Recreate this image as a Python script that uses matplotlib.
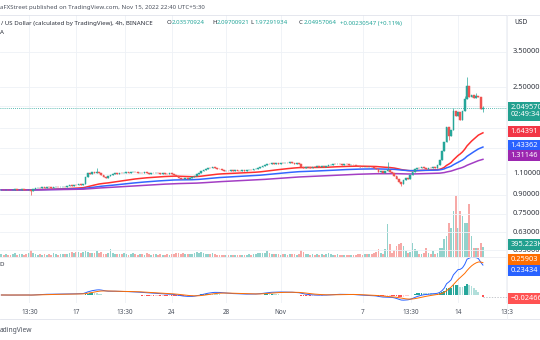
import numpy as np
import matplotlib
matplotlib.use("Agg")
import matplotlib.pyplot as plt
from matplotlib.ticker import NullLocator

plt.rcParams['font.family'] = ['Noto Sans', 'DejaVu Sans']

# ---------------- data (4h candles, Oct 11 -> Nov 15 2022) ----------------
closes = [
    0.942, 0.938, 0.944, 0.940, 0.936, 0.941, 0.945, 0.939, 0.943, 0.947, 0.941, 0.938, 0.944,
    0.930, 0.952,
    0.958, 0.962, 0.957, 0.965, 0.961, 0.968, 0.963, 0.959, 0.966, 0.970, 0.964, 0.968, 0.972, 0.967, 0.975,
    0.982, 0.978, 0.988, 0.985, 0.994, 0.990, 0.998,
    1.065, 1.102,
    1.098, 1.112, 1.105, 1.118, 1.108,
    1.080, 1.062, 1.058, 1.070, 1.088,
    1.098, 1.104, 1.096, 1.108, 1.102, 1.110,
    1.115, 1.108, 1.112, 1.120, 1.114, 1.106, 1.110, 1.104, 1.112, 1.108, 1.100, 1.106, 1.102, 1.110,
    1.104, 1.098, 1.106, 1.100, 1.096, 1.102, 1.094, 1.088,
    1.070, 1.055, 1.048, 1.042, 1.050, 1.045, 1.052, 1.060,
    1.078, 1.095, 1.110, 1.128, 1.138, 1.150,
    1.162, 1.158, 1.166, 1.160, 1.152, 1.145,
    1.135, 1.128, 1.132, 1.126, 1.134, 1.130, 1.138, 1.132, 1.128, 1.136, 1.130, 1.134, 1.140, 1.136,
    1.145, 1.150, 1.158, 1.168,
    1.185, 1.196, 1.205, 1.200, 1.212, 1.206, 1.215, 1.208, 1.218, 1.212, 1.220, 1.214, 1.224, 1.216,
    1.210, 1.218, 1.205,
    1.175, 1.162,
    1.168, 1.172, 1.165, 1.174, 1.170, 1.178, 1.172, 1.180, 1.176, 1.185,
    1.192, 1.198, 1.205, 1.200, 1.208, 1.202, 1.196, 1.204, 1.200, 1.194, 1.198, 1.190, 1.186, 1.180,
    1.175, 1.170, 1.174, 1.166, 1.172, 1.168, 1.160, 1.150,
    1.118, 1.125, 1.110, 1.128, 1.135, 1.120, 1.105,
    1.075, 1.040, 1.010, 0.995, 1.030,
    1.055, 1.048, 1.085, 1.120,
    1.150, 1.162, 1.155, 1.168, 1.160, 1.152, 1.165, 1.158, 1.170, 1.164,
    1.19, 1.25, 1.36, 1.48, 1.72, 1.57, 1.66, 2.00, 1.90, 1.97, 1.84, 1.99, 2.24, 2.52,
    2.27, 2.33, 2.25, 2.31, 2.27, 2.03570924, 2.04957064,
]
first_open = 0.940

volumes = [
    120, 90, 140, 100, 80, 110, 150, 95, 130, 105, 85, 120, 160,
    280, 180,
    110, 90, 130, 100, 140, 85, 120, 95, 150, 110, 90, 125, 105, 140, 115,
    180, 200, 160, 190, 210, 170, 220,
    230, 200,
    180, 150, 170, 240, 160,
    190, 140, 130, 150, 320,
    160, 120, 140, 110, 130, 150,
    120, 100, 140, 160, 110, 90, 130, 120, 100, 150, 110, 95, 120, 105,
    90, 130, 100, 85, 110, 95, 120, 140,
    160, 180, 130, 150, 120, 140, 110, 130,
    170, 190, 150, 200, 160, 140,
    130, 110, 150, 120, 100, 90,
    80, 100, 70, 90, 85, 75, 95, 80, 70, 90, 85, 100, 110, 95, 120, 140, 160, 180,
    150, 170, 240, 160, 130, 120, 140, 110, 100, 130, 115, 95, 120, 105, 110, 90, 140,
    280, 200,
    130, 110, 100, 120, 90, 105, 95, 110, 100, 115,
    160, 120, 100, 90, 110, 95, 85, 100, 90, 80, 95, 85, 100, 110,
    120, 100, 130, 110, 140, 120, 160, 200,
    320, 160, 120, 320, 1320, 520, 160,
    300, 440, 520, 560, 440,
    240, 160, 200, 560,
    320, 240, 120, 120, 160, 360, 160, 140, 240, 120,
    160, 360, 360, 720, 840, 1360, 1160, 1840, 2440, 1160, 1840, 1640, 1360, 1360,
    2120, 840, 360, 360, 360, 560, 395.223,
]

# visible wick extremes (candle index -> price)
wick_high = {13: 0.952, 42: 1.165, 170: 1.225, 199: 2.05, 204: 2.30, 205: 2.76, 209: 2.36, 212: 2.09700921}
wick_low = {13: 0.900, 176: 0.975, 197: 1.52, 212: 1.97291934}

last_candle_day = 1 + 20 / 24          # Nov 15 20:00, days relative to Nov 14
time_ticks = [-31.4375, -28, -24.4375, -21, -17, -13, -7, -3.4375, 0, 3.5625]
time_labels = ['13:30', '17', '13:30', '24', '28', 'Nov', '7', '13:30', '14', '13:3']

grid_levels = [3.5, 2.5, 2.1, 1.7, 1.4, 1.1, 0.9, 0.75, 0.63, 0.53]
label_levels = [3.5, 2.5, 1.1, 0.9, 0.75, 0.63, 0.53]
label_texts = ['3.50000', '2.50000', '1.10000', '0.90000', '0.75000', '0.63000', '0.53000']

ema_periods = [50, 100, 200]
ema_last = [1.64391, 1.43362, 1.31146]
ema_last_labels = ['1.64391', '1.43362', '1.31146']
last_price_label = '2.04957064\n02:49:34'
volume_label = '395.223K'
macd_signal_last, macd_last, macd_hist_last = 0.25903, 0.23434, -0.02466

# ---------------- derived ----------------
c = np.array(closes, dtype=float)
N = len(c)
o = np.r_[first_open, c[:-1]]
hi = np.maximum(o, c)
lo = np.minimum(o, c)
for k, v in wick_high.items():
    hi[k] = v
for k, v in wick_low.items():
    lo[k] = v
days = last_candle_day - np.arange(N)[::-1] / 6.0
up = c >= o


def ema(x, n):
    a = 2.0 / (n + 1)
    out = np.empty_like(x)
    out[0] = x[0]
    for i in range(1, len(x)):
        out[i] = a * x[i] + (1 - a) * out[i - 1]
    return out


emas = [ema(c, n) for n in ema_periods]
macd = ema(c, 12) - ema(c, 26)
sig = ema(macd, 9)
hist = macd - sig

# ---------------- layout ----------------
W, H = 540, 340
fig = plt.figure(figsize=(W / 100, H / 100), dpi=100)
fig.patch.set_facecolor('white')


def fr(x0, y0, x1, y1):
    return [x0 / W, 1 - y1 / H, (x1 - x0) / W, (y1 - y0) / H]


TEAL, RED = '#26a69a', '#ef5350'
GRID = '#eef1f6'
TXT = '#4c525e'
BW = 0.13

axv = fig.add_axes(fr(0, 15, 507, 257))
ax = fig.add_axes(fr(0, 15, 507, 257), sharex=axv)
axm = fig.add_axes(fr(0, 257, 507, 303), sharex=axv)
ax.patch.set_visible(False)

ax.set_yscale('log')
ax.set_ylim(0.4968, 4.978)
ax.set_xlim(-33.6, 3.6)
axv.set_ylim(0, 9680)
axm.set_ylim(-0.0628, 0.2983)

for a in (ax, axv, axm):
    for s in a.spines.values():
        s.set_visible(False)
    a.tick_params(length=0, labelleft=False, labelbottom=False)

axv.set_yticks([])
ax.set_yticks(grid_levels)
ax.yaxis.set_minor_locator(NullLocator())
ax.set_xticks(time_ticks)
ax.grid(True, color=GRID, lw=0.6, zorder=0)
axm.set_yticks([])
axm.grid(True, axis='x', color=GRID, lw=0.6, zorder=0)
axm.set_xticks(time_ticks)
axm.set_xticklabels(time_labels)
axm.tick_params(axis='x', labelbottom=True, pad=4.5, labelsize=4.6, labelcolor=TXT)

# volume
vcol = np.where(up, '#92d2cc', '#f7a9a7')
axv.bar(days, volumes, width=BW, color=vcol, linewidth=0)

# candles
ccol = np.where(up, TEAL, RED)
ax.vlines(days, lo, hi, colors=ccol, lw=0.5, zorder=3)
ax.bar(days, np.abs(c - o), bottom=np.minimum(o, c), width=BW,
       color=ccol, edgecolor=ccol, linewidth=0.35, zorder=4)

# EMAs
for e, col in zip(emas, ['#ff3030', '#3366ff', '#a33ec4']):
    ax.plot(days, e, color=col, lw=1.1, zorder=2.5)

ax.axhline(c[-1], color=TEAL, ls=(0, (1, 1.5)), lw=0.6, zorder=2)

# MACD
hcol = []
for i in range(N):
    prev = hist[i - 1] if i else 0
    if hist[i] >= 0:
        hcol.append('#26a69a' if hist[i] > prev else '#b2dfdb')
    else:
        hcol.append('#ff5252' if hist[i] < prev else '#ffcdd2')
axm.bar(days, hist, width=BW, color=hcol, linewidth=0)
axm.plot(days, macd, color='#2962ff', lw=0.7)
axm.plot(days, sig, color='#ff6d00', lw=0.7)
axm.plot([days[-1], 3.6], [hist[-1], hist[-1]], color='#b0b3ba', lw=0.5, ls=(0, (2, 2)))

# ---------------- right price scales ----------------
axr = fig.add_axes(fr(507, 15, 540, 257), sharey=ax)
axrm = fig.add_axes(fr(507, 257, 540, 303), sharey=axm)
for a in (axr, axrm):
    a.set_xlim(0, 1)
    a.axis('off')

tr = axr.get_yaxis_transform()
for lv, lb in zip(label_levels, label_texts):
    axr.text(0.18, lv, lb, transform=tr, va='center', ha='left', fontsize=5.3, color='#333740', zorder=2)

box_kw = dict(boxstyle='square,pad=0.28', ec='none')
axr.annotate(last_price_label, xy=(0.1, c[-1]), xycoords=tr, xytext=(0, 3.2), textcoords='offset points',
             va='top', ha='left', fontsize=5.3, color='white', linespacing=1.15,
             bbox=dict(fc='#22a08f', **box_kw), zorder=5)
for v, lb, col in zip(ema_last, ema_last_labels, ['#f23645', '#2962ff', '#9c27b0']):
    axr.text(0.1, v, lb, transform=tr, va='center', ha='left', fontsize=5.3, color='white',
             bbox=dict(fc=col, **box_kw), zorder=5)

# volume label (in volume units) on price scale
ybox = axv.transData.transform((0, volumes[-1]))[1] / H
fig.text(510.5 / W, ybox + 3 / H, volume_label, va='center', ha='left', fontsize=5.3, color='white',
         bbox=dict(fc='#22a08f', **box_kw), zorder=6)

trm = axrm.get_yaxis_transform()
axrm.annotate('0.25903', xy=(0.1, macd_signal_last), xycoords=trm, xytext=(0, 1.5), textcoords='offset points',
              va='center', ha='left', fontsize=5.3, color='white', bbox=dict(fc='#ff6d00', **box_kw))
axrm.annotate('0.23434', xy=(0.1, macd_last), xycoords=trm, xytext=(0, -4), textcoords='offset points',
              va='center', ha='left', fontsize=5.3, color='white', bbox=dict(fc='#2962ff', **box_kw))
axrm.text(0.1, macd_hist_last, '\u22120.02466', transform=trm, va='center', ha='left', fontsize=5.3,
          color='white', bbox=dict(fc='#ff5252', **box_kw))

# ---------------- frame lines ----------------
for yy in (15, 319):
    fig.add_artist(plt.Line2D([0, 1], [1 - yy / H] * 2, color='#e0e3eb', lw=0.6))
fig.add_artist(plt.Line2D([0, 507 / W], [1 - 257 / H] * 2, color='#eceef3', lw=0.6))
fig.add_artist(plt.Line2D([507 / W] * 2, [1 - 319 / H, 1 - 15 / H], color='#eceef3', lw=0.6))

# ---------------- header / footer text ----------------
def ftxt(x, y, s, col=TXT, size=4.4, **kw):
    fig.text(x / W, 1 - y / H, s, color=col, fontsize=size, va='center', ha='left', **kw)


ftxt(0, 7, 'aFXStreet published on TradingView.com, Nov 15, 2022 22:40 UTC+5:30')
ftxt(1, 23, '/ US Dollar (calculated by TradingView), 4h, BINANCE', col='#2a2e39')
for x, letter, val in [(167, 'O', '2.03570924'), (212, 'H', '2.09700921'),
                       (250, 'L', '1.97291934'), (299, 'C', '2.04957064')]:
    ftxt(x, 23, letter, col='#2a2e39')
    ftxt(x + 4.3, 23, val, col=TEAL)
ftxt(340, 23, '+0.00230547 (+0.11%)', col=TEAL)
ftxt(0, 32, 'A', col='#2a2e39')
ftxt(514, 23, 'USD', col='#2a2e39', size=4.8)
ftxt(-1, 265, 'D', col='#2a2e39')
ftxt(0, 330, 'adingView', col=TXT, size=4.8)

fig.savefig('out.png', dpi=100, facecolor='white')
